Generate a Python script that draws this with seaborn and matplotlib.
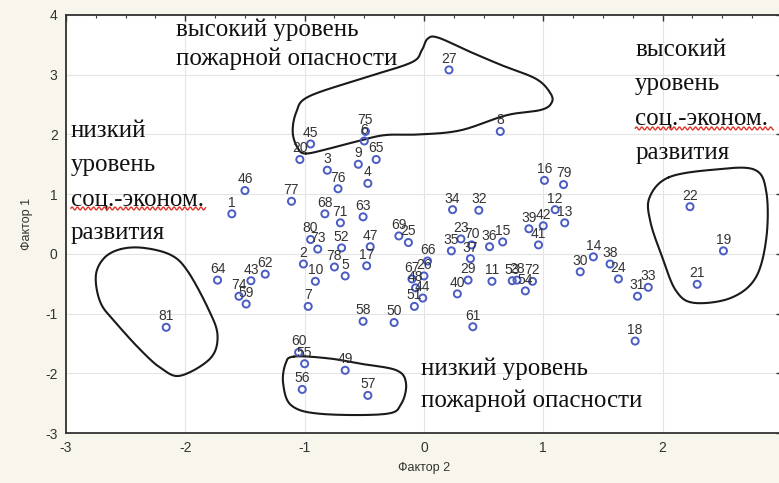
import numpy as np
import pandas as pd
import matplotlib
matplotlib.use("Agg")
import matplotlib.pyplot as plt
from matplotlib.ticker import MultipleLocator
import seaborn as sns

# Factor scores of the 81 regions
region_ids = list(range(1, 82))
factor2 = [-1.61, -1.01, -0.81, -0.47, -0.66, -0.50, -0.97, 0.64, -0.55, -0.91,
           0.57, 1.10, 1.18, 1.42, 0.66, 1.01, -0.48, 1.77, 2.51, -1.04,
           2.29, 2.23, 0.31, 1.63, -0.13, 0.00, 0.21, 0.78, 0.37, 1.31,
           1.79, 0.46, 1.88, 0.24, 0.23, 0.55, 0.39, 1.56, 0.88, 0.28,
           0.96, 1.00, -1.45, -0.01, -0.95, -1.50, -0.45, -0.07, -0.66, -0.25,
           -0.08, -0.69, 0.74, 0.85, -1.00, -1.02, -0.47, -0.51, -1.49, -1.05,
           0.41, -1.33, -0.51, -1.73, -0.40, 0.03, -0.10, -0.83, -0.21, 0.40,
           -0.70, 0.91, -0.89, -1.55, -0.49, -0.72, -1.11, -0.75, 1.17, -0.95,
           -2.16]
factor1 = [0.67, -0.17, 1.40, 1.18, -0.37, 1.89, -0.88, 2.05, 1.50, -0.46,
           -0.46, 0.74, 0.52, -0.05, 0.20, 1.23, -0.20, -1.46, 0.05, 1.58,
           -0.51, 0.79, 0.25, -0.42, 0.19, -0.37, 3.08, -0.44, -0.44, -0.30,
           -0.71, 0.73, -0.56, 0.74, 0.05, 0.12, -0.08, -0.17, 0.42, -0.67,
           0.15, 0.47, -0.45, -0.74, 1.84, 1.06, 0.12, -0.57, -1.95, -1.15,
           -0.88, 0.10, -0.45, -0.62, -1.84, -2.27, -2.37, -1.13, -0.84, -1.65,
           -1.22, -0.34, 0.62, -0.44, 1.58, -0.12, -0.42, 0.67, 0.30, 0.15,
           0.52, -0.46, 0.08, -0.71, 2.05, 1.09, 0.88, -0.22, 1.16, 0.24,
           -1.23]

x_ticks = [-3, -2, -1, 0, 1, 2, 3]
y_ticks = [-3, -2, -1, 0, 1, 2, 3, 4]

# Hand-drawn group outlines (Фактор 2, Фактор 1)
outline_high_fire = ([-0.99, -1.06, -1.10, -1.07, -0.97, -0.53, -0.11, -0.02, 0.03, 0.12,
                      0.39, 0.65, 0.94, 1.06, 1.07, 0.98, 0.69, 0.31, -0.03, -0.32, -0.53, -0.78],
                     [1.68, 1.78, 2.04, 2.37, 2.63, 2.93, 3.20, 3.40, 3.60, 3.62,
                      3.38, 3.16, 2.93, 2.69, 2.53, 2.41, 2.32, 2.07, 2.00, 1.99, 1.90, 1.77])
outline_low_dev = ([-2.54, -2.35, -2.12, -1.98, -1.81, -1.73, -1.79, -2.04, -2.20, -2.37, -2.58, -2.71, -2.75, -2.68],
                   [0.08, 0.10, -0.02, -0.29, -0.91, -1.36, -1.75, -2.04, -1.92, -1.62, -1.16, -0.82, -0.37, -0.07])
outline_low_fire = ([-1.09, -0.80, -0.53, -0.23, -0.15, -0.19, -0.32, -0.86, -1.11, -1.18, -1.16],
                    [-1.72, -1.75, -1.84, -1.95, -2.17, -2.51, -2.68, -2.68, -2.54, -2.17, -1.84])
outline_high_dev = ([2.05, 2.43, 2.77, 2.87, 2.87, 2.78, 2.57, 2.26, 2.11, 2.00, 1.90, 1.89],
                    [1.28, 1.41, 1.41, 1.03, 0.27, -0.40, -0.74, -0.82, -0.61, -0.07, 0.52, 0.94])


def closed_spline(xs, ys, n=24):
    """Closed Catmull-Rom curve through the given points."""
    p = np.column_stack([xs, ys])
    m = len(p)
    t = np.linspace(0, 1, n, endpoint=False)[:, None]
    parts = []
    for i in range(m):
        p0, p1, p2, p3 = p[(i - 1) % m], p[i], p[(i + 1) % m], p[(i + 2) % m]
        parts.append(0.5 * (2 * p1 + (-p0 + p2) * t
                            + (2 * p0 - 5 * p1 + 4 * p2 - p3) * t ** 2
                            + (-p0 + 3 * p1 - 3 * p2 + p3) * t ** 3))
    c = np.vstack(parts + [parts[0][:1]])
    return c[:, 0], c[:, 1]


sns.set_style("white")
plt.rcParams["font.family"] = ["Liberation Sans", "DejaVu Sans"]
plt.rcParams["axes.unicode_minus"] = False

df = pd.DataFrame({"id": region_ids, "Фактор 2": factor2, "Фактор 1": factor1})

fig = plt.figure(figsize=(7.79, 4.83), dpi=100, facecolor="#f8f6ec")
ax = fig.add_axes([0.0847, 0.1035, 0.919, 0.8655])
ax.set_facecolor("white")

sns.scatterplot(data=df, x="Фактор 2", y="Фактор 1", ax=ax, s=26,
                marker="o", edgecolor="#4a5cc4", linewidth=1.4, zorder=3)
ax.collections[0].set_facecolor("none")

for rid, xv, yv in zip(region_ids, factor2, factor1):
    ax.annotate(str(rid), (xv, yv), xytext=(0, 8), textcoords="offset points",
                ha="center", va="center", fontsize=10, color="#333333", zorder=4)

for xs, ys in (outline_high_fire, outline_low_dev, outline_low_fire, outline_high_dev):
    cx, cy = closed_spline(xs, ys)
    ax.plot(cx, cy, color="#1a1a1a", lw=1.5, zorder=2)

serif = dict(family=["Liberation Serif", "DejaVu Serif"], fontsize=18, color="#111111",
             va="center", ha="left", zorder=5)
ax.text(-2.08, 3.75, "высокий уровень", **serif)
ax.text(-2.08, 3.26, "пожарной опасности", **serif)
for yv, line in zip([2.06, 1.49, 0.90, 0.35], ["низкий", "уровень", "соц.-эконом.", "развития"]):
    ax.text(-2.96, yv, line, **serif)
for yv, line in zip([3.41, 2.84, 2.25, 1.69], ["высокий", "уровень", "соц.-эконом.", "развития"]):
    ax.text(1.77, yv, line, **serif)
ax.text(-0.025, -1.92, "низкий уровень", **serif)
ax.text(-0.025, -2.46, "пожарной опасности", **serif)

# red wavy underline under "соц.-эконом."
for x0, x1, yb in ((-2.96, -1.83, 0.76), (1.77, 2.93, 2.10)):
    wx = np.linspace(x0, x1, 200)
    wy = yb + 0.025 * np.sin((wx - x0) / 0.045 * 2 * np.pi)
    ax.plot(wx, wy, color="#e0352b", lw=1.0, zorder=5)

ax.set_xlim(-3, 3)
ax.set_ylim(-3, 4)
ax.set_xticks(x_ticks)
ax.set_yticks(y_ticks)
ax.xaxis.set_minor_locator(MultipleLocator(0.25))
ax.yaxis.set_minor_locator(MultipleLocator(0.2))
ax.grid(True, which="major", color="#e4e4e4", lw=0.8)
ax.set_axisbelow(True)
ax.tick_params(which="both", direction="in", top=True, right=True, color="#333333")
ax.tick_params(which="major", length=4, width=1, labelsize=10, labelcolor="#333333", pad=6)
ax.tick_params(which="minor", length=2.5, width=0.8)
for sp in ax.spines.values():
    sp.set_color("#333333")
    sp.set_linewidth(1.3)
ax.set_xlabel("Фактор 2", fontsize=9, color="#333333", labelpad=5)
ax.set_ylabel("Фактор 1", fontsize=9, color="#333333", labelpad=9)

fig.savefig("out.png", dpi=100, facecolor=fig.get_facecolor())
